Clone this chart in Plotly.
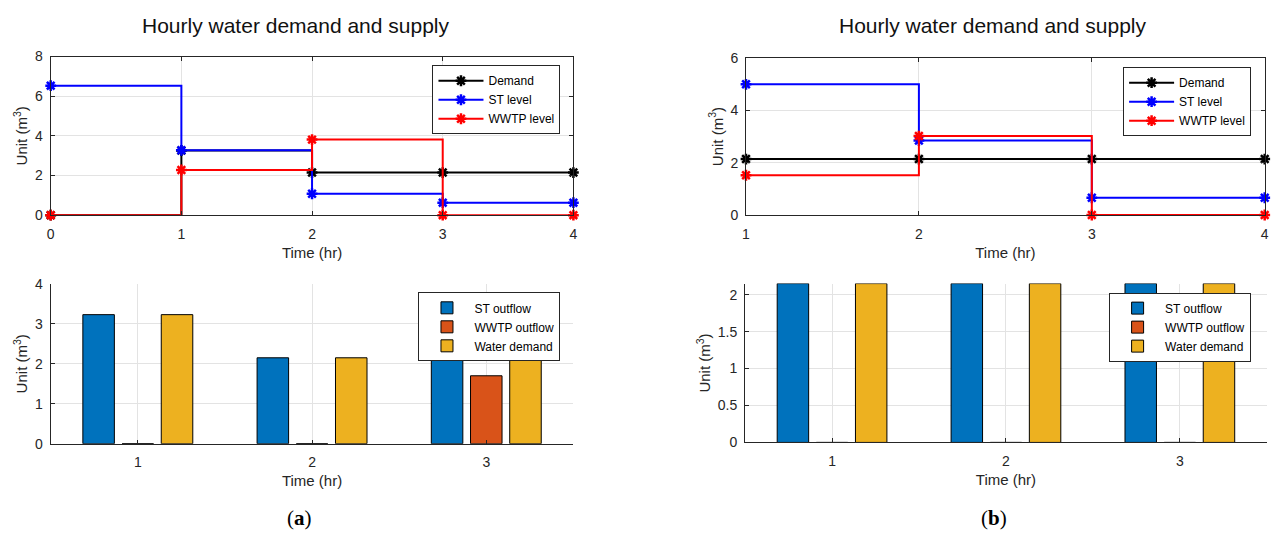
import plotly.graph_objects as go

# ---------------- data ----------------
hours_a = [0, 1, 2, 3, 4]
demand_a = [0, 3.26, 2.15, 2.15, 2.15]
st_level_a = [6.53, 3.27, 1.08, 0.63, 0.63]
wwtp_level_a = [0, 2.28, 3.81, 0, 0]

hours_b = [1, 2, 3, 4]
demand_b = [2.14, 2.14, 2.14, 2.14]
st_level_b = [5.0, 2.85, 0.66, 0.66]
wwtp_level_b = [1.52, 3.02, 0, 0]

bar_hours = [1, 2, 3]
st_out_a = [3.23, 2.15, 2.15]
wwtp_out_a = [0, 0, 1.7]
water_demand_a = [3.23, 2.15, 2.15]
st_out_b = [2.15, 2.15, 2.15]
wwtp_out_b = [0, 0, 0]
water_demand_b = [2.15, 2.15, 2.15]

line_names = ["Demand", "ST level", "WWTP level"]
bar_names = ["ST outflow", "WWTP outflow", "Water demand"]
title_text = "Hourly water demand and supply"
x_title = "Time (hr)"
y_title = "Unit (m<sup>3</sup>)"

# ---------------- styles ----------------
W, H = 1271, 540
FONT = "Liberation Sans, Arial, sans-serif"
AX = "#262626"
GRID = "#e3e3e3"
line_colors = ["#000000", "#0000ff", "#ff0000"]
bar_colors = ["#0072BD", "#D95319", "#EDB120"]

fig = go.Figure()

def add_lines(xs, series, xa, ya, leg):
    for name, ys, c in zip(line_names, series, line_colors):
        fig.add_trace(go.Scatter(
            x=xs, y=ys, name=name, mode="lines+markers", line_shape="hv",
            line=dict(color=c, width=2),
            marker=dict(symbol="asterisk", size=9, color=c, line=dict(color=c, width=2.5)),
            xaxis=xa, yaxis=ya, legend=leg, cliponaxis=False))

def add_bars(xs, series, xa, ya, leg):
    for name, ys, c in zip(bar_names, series, bar_colors):
        fig.add_trace(go.Bar(
            x=xs, y=ys, name=name, marker=dict(color=c, line=dict(color="#000000", width=1)),
            xaxis=xa, yaxis=ya, legend=leg, offsetgroup=name))

add_lines(hours_a, [demand_a, st_level_a, wwtp_level_a], "x", "y", "legend")
add_lines(hours_b, [demand_b, st_level_b, wwtp_level_b], "x2", "y2", "legend2")
add_bars(bar_hours, [st_out_a, wwtp_out_a, water_demand_a], "x3", "y3", "legend3")
add_bars(bar_hours, [st_out_b, wwtp_out_b, water_demand_b], "x4", "y4", "legend4")

def px_x(p):
    return p / W

def px_y(p):
    return 1 - p / H

def axis(domain, rng, box, anchor, title, **kw):
    d = dict(
        domain=domain, range=rng, anchor=anchor,
        showline=True, linecolor=AX, linewidth=1,
        mirror="ticks" if box else False,
        ticks="inside", ticklen=4, tickcolor=AX,
        showgrid=True, gridcolor=GRID, gridwidth=1,
        zeroline=False,
        tickfont=dict(family=FONT, size=14, color=AX),
        title=dict(text=title, font=dict(family=FONT, size=15, color=AX)),
    )
    d.update(kw)
    return d

xa_l = [px_x(47), px_x(573)]
xa_r1 = [px_x(746.7), px_x(1268.7)]
xa_r2 = [px_x(745.8), px_x(1270.8)]

layout = dict(
    width=W, height=H, autosize=False,
    margin=dict(l=0, r=0, t=0, b=0),
    paper_bgcolor="white", plot_bgcolor="white",
    barmode="group", bargap=0.325, bargroupgap=0.196,
    xaxis=axis(xa_l, [0, 4], True, "y", x_title, dtick=1, tick0=0, ticklabelstandoff=6),
    yaxis=axis([px_y(213.5), px_y(50)], [0, 8], True, "x", y_title, dtick=2, tick0=0, ticklabelstandoff=4),
    xaxis2=axis(xa_r1, [1, 4], True, "y2", x_title, dtick=1, tick0=1, ticklabelstandoff=6),
    yaxis2=axis([px_y(213.3), px_y(51.7)], [0, 6], True, "x2", y_title, dtick=2, tick0=0, ticklabelstandoff=4),
    xaxis3=axis(xa_l, [0.5, 3.5], False, "y3", x_title, tickvals=bar_hours, ticklabelstandoff=6),
    yaxis3=axis([px_y(449), px_y(284.3)], [0, 4], False, "x3", y_title, dtick=1, tick0=0, ticklabelstandoff=4),
    xaxis4=axis(xa_r2, [0.5, 3.5], False, "y4", x_title, tickvals=bar_hours, ticklabelstandoff=6),
    yaxis4=axis([px_y(447.7), px_y(284)], [0, 2.15], False, "x4", y_title,
                tickvals=[0, 0.5, 1, 1.5, 2], ticktext=["0", "0.5", "1", "1.5", "2"], ticklabelstandoff=4),
)

def leg(xr, yt):
    return dict(x=px_x(xr), y=px_y(yt), xanchor="right", yanchor="top",
                bgcolor="white", bordercolor=AX, borderwidth=1,
                font=dict(family=FONT, size=12, color="#000000"),
                itemwidth=45, tracegroupgap=0)

layout["legend"] = leg(560, 59)
layout["legend2"] = leg(1255, 61)
layout["legend3"] = leg(560, 293)
layout["legend4"] = leg(1255, 293.3)
fig.update_layout(**layout)

for ax in ["xaxis", "xaxis2", "xaxis3", "xaxis4"]:
    fig.layout[ax].title.standoff = 6
for ax in ["yaxis", "yaxis2", "yaxis3", "yaxis4"]:
    fig.layout[ax].title.standoff = 3

def ann(text, x, y, family, size, color):
    return dict(text=text, x=px_x(x), y=px_y(y), xref="paper", yref="paper",
                xanchor="center", yanchor="middle", showarrow=False,
                font=dict(family=family, size=size, color=color))

annotations = [
    ann(title_text, 294, 18, FONT, 21, "#111111"),
    ann(title_text, 995, 18, FONT, 21, "#111111"),
    ann("(<b>a</b>)", 297, 526, "Liberation Serif, serif", 21, "#000000"),
    ann("(<b>b</b>)", 996, 526, "Liberation Serif, serif", 21, "#000000"),
]
fig.update_layout(annotations=annotations)

fig.write_html("out.html", config={"displayModeBar": False},
               post_script="document.body.style.margin='0';document.body.style.overflow='hidden';")
